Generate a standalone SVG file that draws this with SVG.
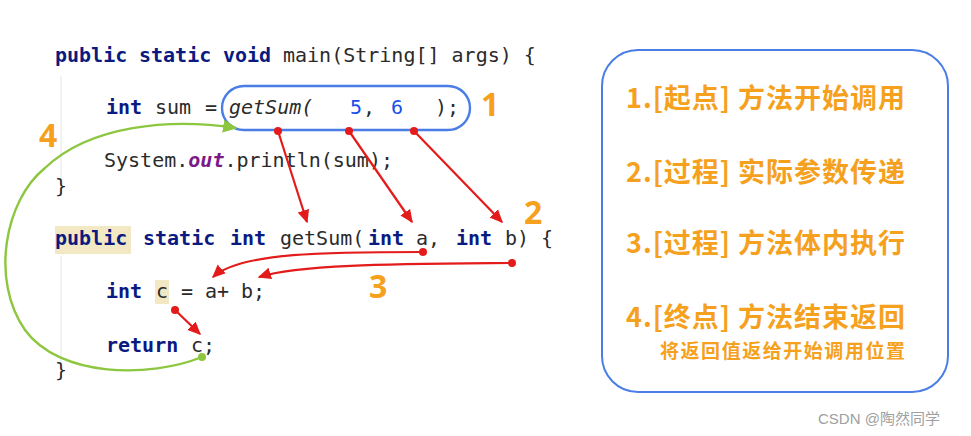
<svg xmlns="http://www.w3.org/2000/svg" width="971" height="436" viewBox="0 0 971 436">
<style>
.code{font-family:"DejaVu Sans Mono","Liberation Mono",monospace;font-size:20px;fill:#2b2b2b}
.kw{font-weight:bold;fill:#0a1a80}
.num{fill:#1750eb}
.it{font-style:italic}
.out{font-weight:bold;font-style:italic;fill:#7a1a8a}
.step{font-family:"Noto Sans CJK SC","Noto Sans",sans-serif;font-weight:bold;fill:#f5a11e}
.lbl{font-family:"Noto Sans","Liberation Sans",sans-serif;font-weight:bold;font-size:32px;fill:#f5a11e}
.red{fill:none;stroke:#e31b1b;stroke-width:2.2}
.green{fill:none;stroke:#8dc63f;stroke-width:2.4}
</style>
<defs>
<marker id="ar" viewBox="0 0 10 10" refX="9" refY="5" markerWidth="6" markerHeight="6" orient="auto" markerUnits="strokeWidth">
<path d="M0,0.5 L10,5 L0,9.5 Z" fill="#e31b1b"/>
</marker>
<marker id="ag" viewBox="0 0 10 10" refX="9" refY="5" markerWidth="6" markerHeight="6" orient="auto" markerUnits="strokeWidth">
<path d="M0,0.5 L10,5 L0,9.5 Z" fill="#8dc63f"/>
</marker>
</defs>
<rect width="971" height="436" fill="#ffffff"/>

<g id="code">
<line x1="61" y1="76" x2="61" y2="186" stroke="#e6e6e6" stroke-width="1"/>
<line x1="61" y1="256" x2="61" y2="364" stroke="#e6e6e6" stroke-width="1"/>
<rect x="55" y="226" width="76" height="28" fill="#f2e9c4"/>
<rect x="155" y="280" width="14" height="24" fill="#f2e9c4"/>
<text class="code" y="62"><tspan x="55" class="kw">public</tspan><tspan x="139" class="kw">static</tspan><tspan x="223" class="kw">void</tspan><tspan x="283" xml:space="preserve">main(String[] args) {</tspan></text>
<text class="code" y="114"><tspan x="106" class="kw">int</tspan><tspan x="155">sum</tspan><tspan x="205">=</tspan><tspan x="229" class="it">getSum(</tspan><tspan x="350" class="num">5</tspan><tspan x="363">,</tspan><tspan x="391" class="num">6</tspan><tspan x="435">);</tspan></text>
<text class="code" y="167"><tspan x="104">System.</tspan><tspan class="out">out</tspan><tspan>.println(sum);</tspan></text>
<text class="code" x="55" y="193">}</text>
<text class="code" y="245"><tspan x="55" class="kw">public</tspan><tspan x="143" class="kw">static</tspan><tspan x="230" class="kw">int</tspan><tspan x="280">getSum(</tspan><tspan x="368" class="kw">int</tspan><tspan x="416">a,</tspan><tspan x="456" class="kw">int</tspan><tspan x="505">b)</tspan><tspan x="541">{</tspan></text>
<text class="code" y="298"><tspan x="106" class="kw">int</tspan><tspan x="156">c</tspan><tspan x="181">=</tspan><tspan x="205">a+</tspan><tspan x="241">b;</tspan></text>
<text class="code" y="352"><tspan x="106" class="kw">return</tspan><tspan x="191">c;</tspan></text>
<text class="code" x="55" y="377">}</text>
</g>

<g id="call-bubble">
<rect x="222" y="86" width="248" height="44" rx="22" fill="none" stroke="#4a7ee6" stroke-width="2.4"/>
</g>

<g id="labels">
<text class="lbl" x="481" y="116">1</text>
<text class="lbl" x="524" y="224">2</text>
<text class="lbl" x="369" y="298">3</text>
<text class="lbl" x="39" y="147">4</text>
</g>

<g id="connectors">
<path class="red" d="M278,131 L307,222" marker-end="url(#ar)"/>
<path class="red" d="M349,131 L412,222" marker-end="url(#ar)"/>
<path class="red" d="M414,131 L502,222" marker-end="url(#ar)"/>
<path class="red" d="M423,252 C330,252 240,252 213,277" marker-end="url(#ar)"/>
<path class="red" d="M512,263 C400,264 300,264 259,277" marker-end="url(#ar)"/>
<path class="red" d="M175,310 L200,334" marker-end="url(#ar)"/>
<circle cx="278" cy="131" r="4" fill="#e31b1b"/>
<circle cx="349" cy="131" r="4" fill="#e31b1b"/>
<circle cx="414" cy="131" r="4" fill="#e31b1b"/>
<circle cx="423" cy="252" r="4" fill="#e31b1b"/>
<circle cx="512" cy="263" r="4" fill="#e31b1b"/>
<circle cx="175" cy="310" r="4" fill="#e31b1b"/>
<path class="green" d="M202,357 C150,378 60,378 25,330 C-10,280 5,200 45,168 C90,125 170,118 236,128" marker-end="url(#ag)"/>
<circle cx="202" cy="357" r="4" fill="#8dc63f"/>
</g>

<g id="steps">
<rect x="602" y="50" width="346" height="342" rx="36" fill="none" stroke="#4a7ee6" stroke-width="2"/>
<text class="step" x="626" y="108" font-size="27" textLength="279">1.[起点] 方法开始调用</text>
<text class="step" x="626" y="182" font-size="27" textLength="279">2.[过程] 实际参数传递</text>
<text class="step" x="626" y="253" font-size="27" textLength="279">3.[过程] 方法体内执行</text>
<text class="step" x="626" y="327" font-size="27" textLength="279">4.[终点] 方法结束返回</text>
<text class="step" x="660" y="358" font-size="19" textLength="245">将返回值返给开始调用位置</text>
</g>

<text x="818" y="424" font-family="Liberation Sans,Noto Sans CJK SC,sans-serif" font-size="15" fill="#a0a0a0">CSDN @陶然同学</text>
</svg>
